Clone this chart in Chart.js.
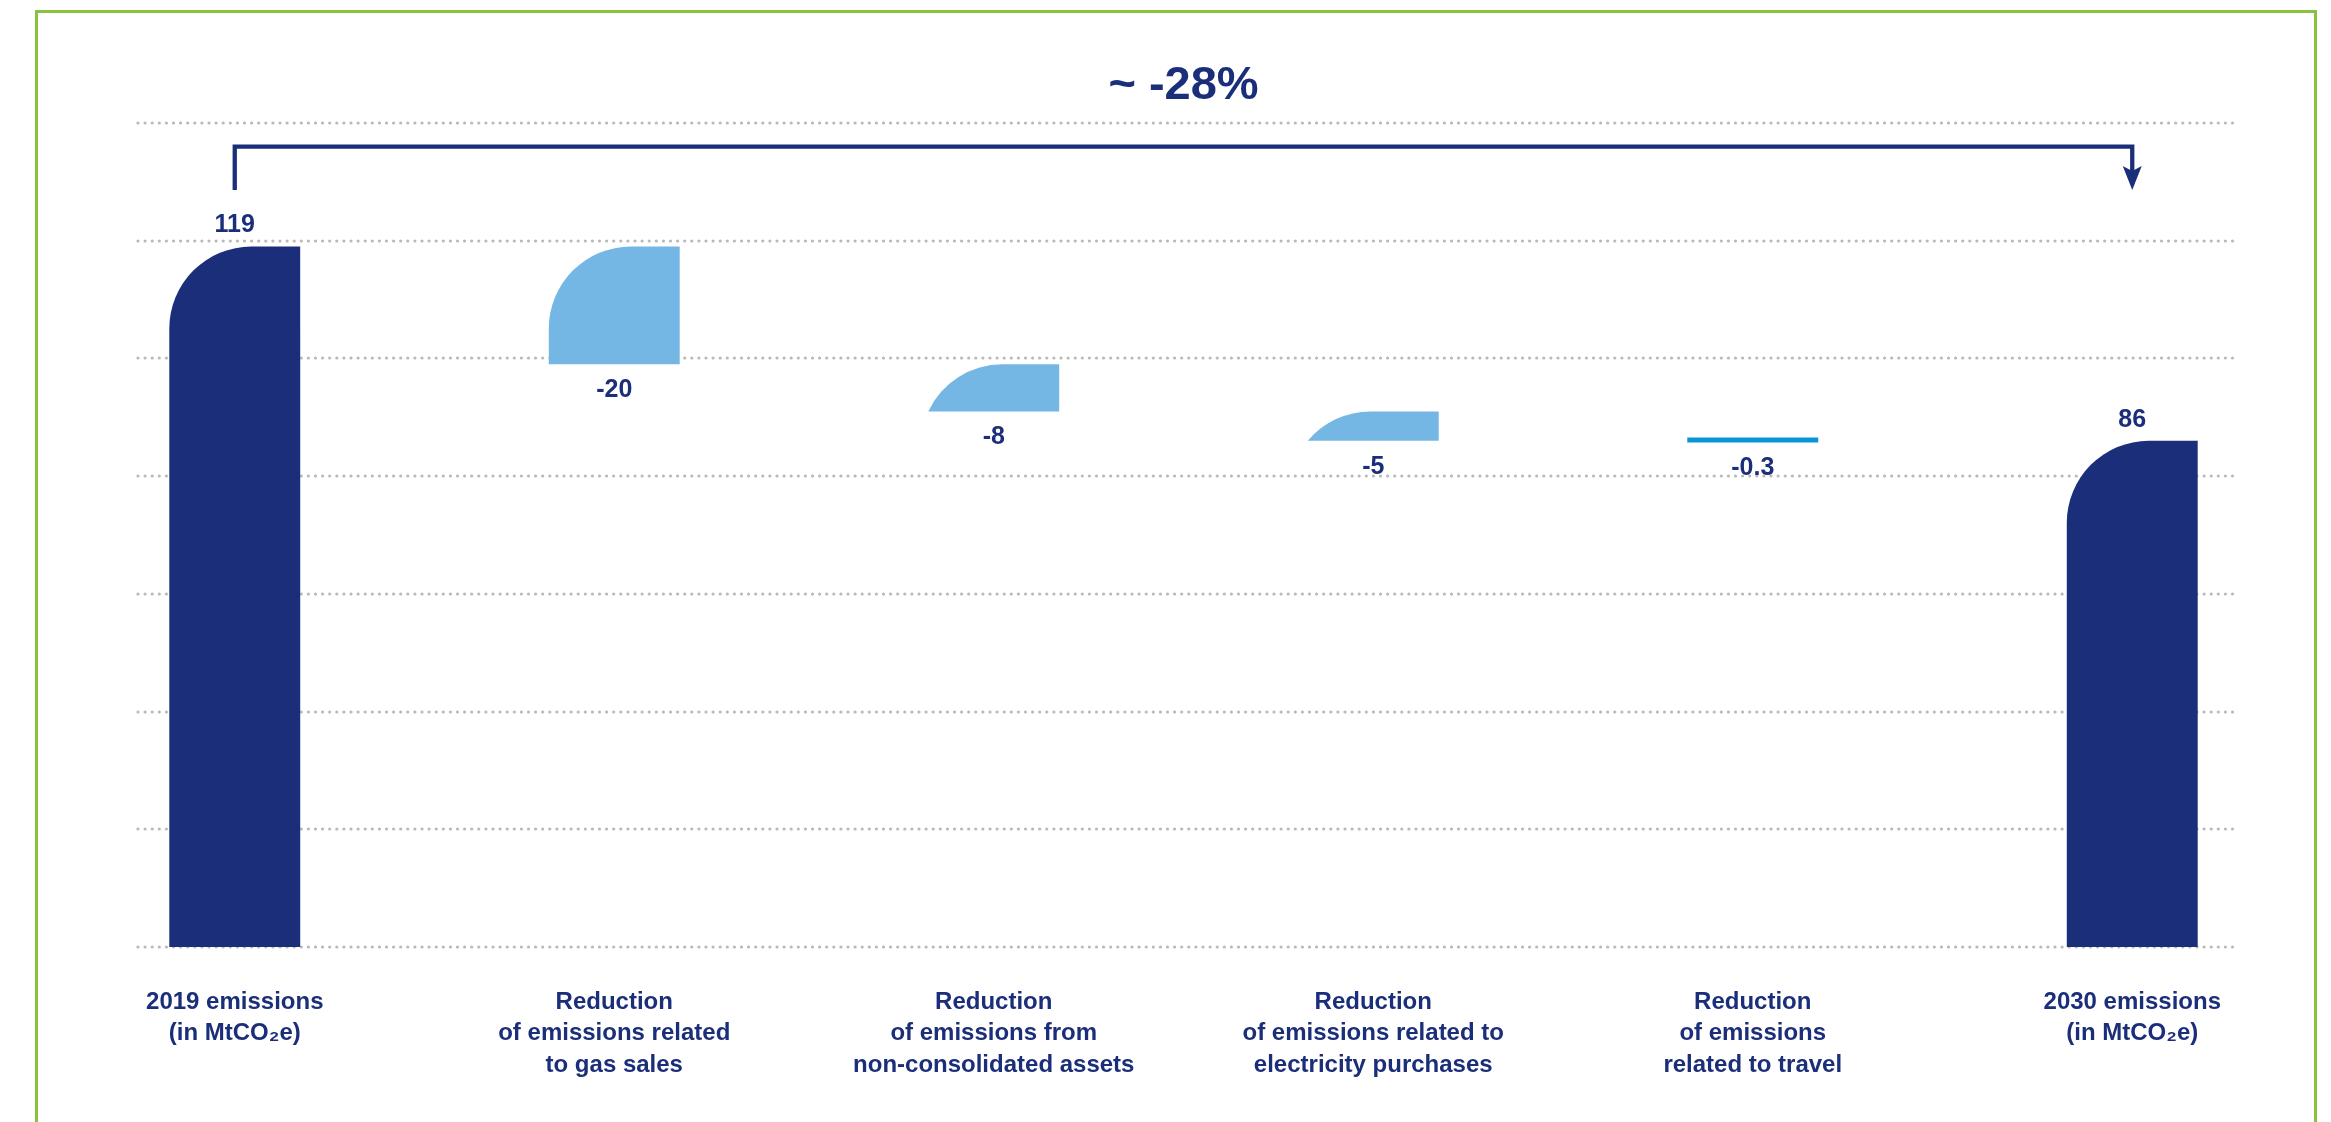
<!DOCTYPE html>
<html lang="en">
<head>
<meta charset="UTF-8">
<title>Emissions 2019 to 2030</title>
<script src="https://cdn.jsdelivr.net/npm/chart.js"></script>
<style>
  html, body { margin: 0; padding: 0; background: #fff; overflow: hidden; }
  #frame {
    position: absolute; left: 35px; top: 10px;
    width: 2276px; height: 1200px;
    border: 3px solid #86c440;
  }
  #wrap { position: absolute; left: 0; top: 0; width: 2331px; height: 1122px; }
</style>
</head>
<body>
<div id="frame"></div>
<div id="wrap"><canvas id="bridge" width="2331" height="1122"></canvas></div>

<script>
  const categories = [
    ['2019 emissions', '(in MtCO\u2082e)'],
    ['Reduction', 'of emissions related', 'to gas sales'],
    ['Reduction', 'of emissions from', 'non-consolidated assets'],
    ['Reduction', 'of emissions related to', 'electricity purchases'],
    ['Reduction', 'of emissions', 'related to travel'],
    ['2030 emissions', '(in MtCO\u2082e)']
  ];
  const values = [119, -20, -8, -5, -0.3, 86];
  const isTotal = [true, false, false, false, false, true];
  const changeLabel = '~ -28%';

  const NAVY = '#1b2e7a';
  const barColors = [NAVY, '#74b6e4', '#74b6e4', '#74b6e4', '#0a96d6', NAVY];
  const cornerRadius = [82, 82, 82, 82, 0, 82];
  const FONT = '"Liberation Sans", Arial, sans-serif';

  // totals stand on zero, reductions float from the running level
  let level = 0;
  const ranges = values.map((v, i) => {
    if (isTotal[i]) { level = v; return [0, v]; }
    const from = level;
    level = +(level + v).toFixed(1);
    return [level, from];
  });

  // bar with one big rounded top-left corner
  function cornerBar(ctx, left, right, top, bottom, r) {
    const h = bottom - top;
    ctx.beginPath();
    if (r <= 0) {
      ctx.rect(left, top, right - left, h);
      return;
    }
    if (h >= r) {
      ctx.moveTo(left, bottom);
      ctx.lineTo(left, top + r);
      ctx.arc(left + r, top + r, r, Math.PI, 1.5 * Math.PI);
    } else {
      // short bar: the arc is cut by the base and starts at the left edge
      const dy = r - h;
      const dx = Math.sqrt(r * r - dy * dy);
      ctx.moveTo(left, bottom);
      ctx.arc(left + dx, top + r, r, Math.atan2(-dy, -dx), -0.5 * Math.PI);
    }
    ctx.lineTo(right, top);
    ctx.lineTo(right, bottom);
    ctx.closePath();
  }

  const dottedGrid = {
    id: 'dottedGrid',
    beforeDatasetsDraw(chart) {
      const {ctx, chartArea, scales: {y}} = chart;
      const x0 = chartArea.left + 93, x1 = chartArea.right - 88;
      ctx.save();
      ctx.strokeStyle = '#b9b9b9';
      ctx.lineWidth = 3.2;
      ctx.lineCap = 'round';
      ctx.setLineDash([0, 7.1]);
      y.ticks.forEach(t => {
        const py = Math.round(y.getPixelForValue(t.value));
        ctx.beginPath();
        ctx.moveTo(x0, py);
        ctx.lineTo(x1, py);
        ctx.stroke();
      });
      ctx.restore();
    }
  };

  const shapedBars = {
    id: 'shapedBars',
    beforeDatasetDraw(chart, args) {
      const ctx = chart.ctx;
      ctx.save();
      args.meta.data.forEach((el, i) => {
        const {x, y, base, width} = el.getProps(['x', 'y', 'base', 'width'], true);
        const top = Math.min(y, base), bottom = Math.max(y, base);
        cornerBar(ctx, x - width / 2, x + width / 2, top, bottom, cornerRadius[i]);
        ctx.fillStyle = barColors[i];
        ctx.fill();
      });
      ctx.restore();
      return false;
    }
  };

  const annotations = {
    id: 'annotations',
    afterDatasetsDraw(chart) {
      const {ctx, scales: {x, y}} = chart;
      const bars = chart.getDatasetMeta(0).data;
      ctx.save();
      ctx.fillStyle = NAVY;
      ctx.font = 'bold 25px ' + FONT;
      ctx.textAlign = 'center';
      ctx.textBaseline = 'middle';
      bars.forEach((el, i) => {
        const {x: bx, y: by, base} = el.getProps(['x', 'y', 'base'], true);
        if (isTotal[i]) {
          ctx.fillText(String(values[i]), bx, Math.min(by, base) - 21);
        } else {
          ctx.fillText(String(values[i]), bx, Math.max(by, base) + 26);
        }
      });

      // bracket from the 2019 bar to the 2030 bar
      const xa = x.getPixelForValue(0), xb = x.getPixelForValue(5);
      const yTop = y.getPixelForValue(136), yEnd = y.getPixelForValue(128.6);
      ctx.strokeStyle = NAVY;
      ctx.lineWidth = 4.3;
      ctx.lineJoin = 'miter';
      ctx.beginPath();
      ctx.moveTo(xa, yEnd);
      ctx.lineTo(xa, yTop);
      ctx.lineTo(xb, yTop);
      ctx.lineTo(xb, yEnd - 18);
      ctx.stroke();
      ctx.beginPath();
      ctx.moveTo(xb, yEnd);
      ctx.lineTo(xb - 9.5, yEnd - 24);
      ctx.lineTo(xb, yEnd - 19);
      ctx.lineTo(xb + 9.5, yEnd - 24);
      ctx.closePath();
      ctx.fill();
      ctx.restore();
    }
  };

  new Chart(document.getElementById('bridge'), {
    type: 'bar',
    data: {
      labels: categories,
      datasets: [{
        data: ranges,
        backgroundColor: barColors,
        minBarLength: 5,
        barPercentage: 0.345,
        categoryPercentage: 1
      }]
    },
    options: {
      responsive: false,
      animation: false,
      layout: { padding: { left: 45, right: 9, top: 0, bottom: 0 } },
      plugins: {
        legend: { display: false },
        tooltip: { enabled: false },
        title: {
          display: true,
          text: changeLabel,
          color: NAVY,
          font: { family: FONT, size: 47, weight: 'bold', lineHeight: 1 },
          padding: { top: 63, bottom: 13 }
        }
      },
      scales: {
        x: {
          grid: { display: false, drawTicks: false },
          border: { display: false },
          ticks: {
            color: NAVY,
            font: { family: FONT, size: 24, weight: 'bold', lineHeight: 1.3 },
            padding: 40,
            maxRotation: 0,
            autoSkip: false
          },
          afterFit(scale) { scale.height = 175; }
        },
        y: {
          min: 0,
          max: 140,
          ticks: { stepSize: 20, display: false },
          grid: { display: false, drawTicks: false },
          border: { display: false },
          afterFit(scale) { scale.width = 0; }
        }
      }
    },
    plugins: [dottedGrid, shapedBars, annotations]
  });
</script>
</body>
</html>
